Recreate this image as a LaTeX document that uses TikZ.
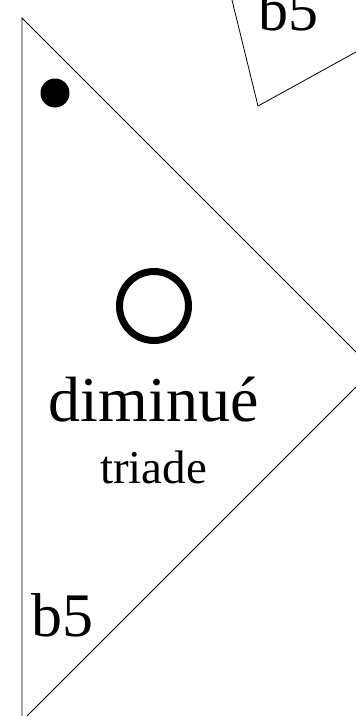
\documentclass[tikz,border=0pt]{standalone}
\usepackage{fontspec}
\setmainfont{Liberation Serif}
\usetikzlibrary{calc}
\tikzset{lbl/.style={inner sep=0,anchor=base}}
\begin{document}
\begin{tikzpicture}[x=1pt,y=-1pt,line width=.8pt]
\useasboundingbox(0,0)rectangle(356,716);
\coordinate(t)at(22,18);\coordinate(r)at(373.5,369.5);\coordinate(b)at(22,721);
\draw(t)--(r)--(b)--cycle;
\coordinate(p)at(232,0);\coordinate(q)at(258,106);\coordinate(s)at(356,52);
\draw($(p)!-.2!(q)$)--(q)--($(q)!1.2!(s)$);
\fill(55,93)circle(14.5);
\draw[line width=7pt](154,306)circle(34.5);
\node[lbl,font=\fontsize{64}{64}\selectfont](dim)at(153.5,421){diminué};
\node[lbl,font=\fontsize{47}{47}\selectfont](tri)at(153.5,483){triade};
\node[lbl,font=\fontsize{62}{62}\selectfont](bfive)at(62,636){b5};
\node[lbl,font=\fontsize{60}{60}\selectfont](bsix)at(288,30){b5};
\end{tikzpicture}
\end{document}
